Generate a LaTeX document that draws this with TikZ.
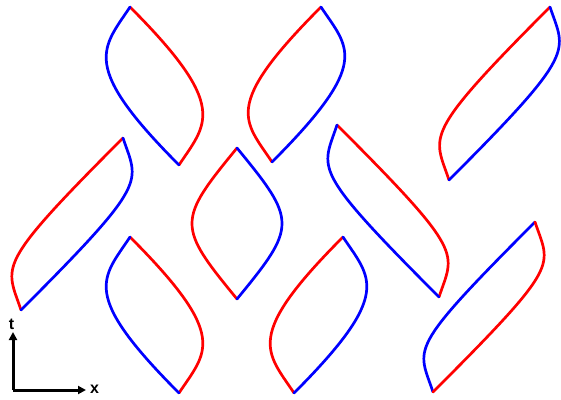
\documentclass[tikz,border=0pt]{standalone}
\usepackage{fontspec}
\setmainfont{Liberation Sans}
\usetikzlibrary{calc,arrows.meta}
\tikzset{
  leafline/.style={line width=2.7pt, line cap=round, line join=round},
  axisline/.style={line width=3pt, -{Triangle[length=8pt,width=8pt]}},
  axislabel/.style={font=\fontsize{16}{16}\selectfont\bfseries, inner sep=0pt},
}
\definecolor{lred}{RGB}{255,0,0}
\definecolor{lblue}{RGB}{0,0,255}
% #1 top, #2 bottom, #3 first control offset, #4 second control offset,
% #5 colour of the straight-first side, #6 colour of the curved-first side
\newcommand\leafshape[6]{%
  \draw[leafline,#5] (#1) .. controls ($(#1)+(#3)$) and ($(#2)+(#4)$) .. (#2);
  \draw[leafline,#6] (#1) .. controls ($(#1)-(#4)$) and ($(#2)-(#3)$) .. (#2);
}
\begin{document}
\begin{tikzpicture}[x=1pt,y=-1pt]
\useasboundingbox (0,0) rectangle (561,399);
% leaf end points
\coordinate (aT) at (130,7);   \coordinate (aB) at (179,165);
\coordinate (bT) at (321,7);   \coordinate (bB) at (272,162);
\coordinate (cT) at (550,7);   \coordinate (cB) at (449,180);
\coordinate (dT) at (123,138); \coordinate (dB) at (21,310);
\coordinate (eT) at (237,148); \coordinate (eB) at (237,299);
\coordinate (fT) at (337,125); \coordinate (fB) at (439,297);
\coordinate (gT) at (130,237); \coordinate (gB) at (179,393);
\coordinate (hT) at (343,237); \coordinate (hB) at (294,393);
\coordinate (iT) at (535,222); \coordinate (iB) at (433,392);
% leaves
\leafshape{aT}{aB}{100,100}{27.5,-41.5}{lred}{lblue}
\leafshape{gT}{gB}{100,100}{27.5,-41.5}{lred}{lblue}
\leafshape{bT}{bB}{-100,100}{-27.5,-41.5}{lred}{lblue}
\leafshape{hT}{hB}{-100,100}{-27.5,-41.5}{lred}{lblue}
\leafshape{eT}{eB}{-60,73}{-60,-73}{lred}{lblue}
\leafshape{cT}{cB}{-130,130}{-15,-45}{lred}{lblue}
\leafshape{dT}{dB}{-130,130}{-15,-45}{lred}{lblue}
\leafshape{fT}{fB}{130,130}{15,-45}{lred}{lblue}
\leafshape{iT}{iB}{-130,130}{-15,-45}{lblue}{lred}
% axes
\coordinate (o) at (13,390);
\coordinate (tEnd) at (13,332);
\coordinate (xEnd) at (86,390);
\draw[axisline] (o) -- (tEnd);
\draw[axisline] (o) -- (xEnd);
\node[axislabel] (tlab) at (11.5,324) {t};
\node[axislabel] (xlab) at (94.5,389) {x};
\end{tikzpicture}
\end{document}
